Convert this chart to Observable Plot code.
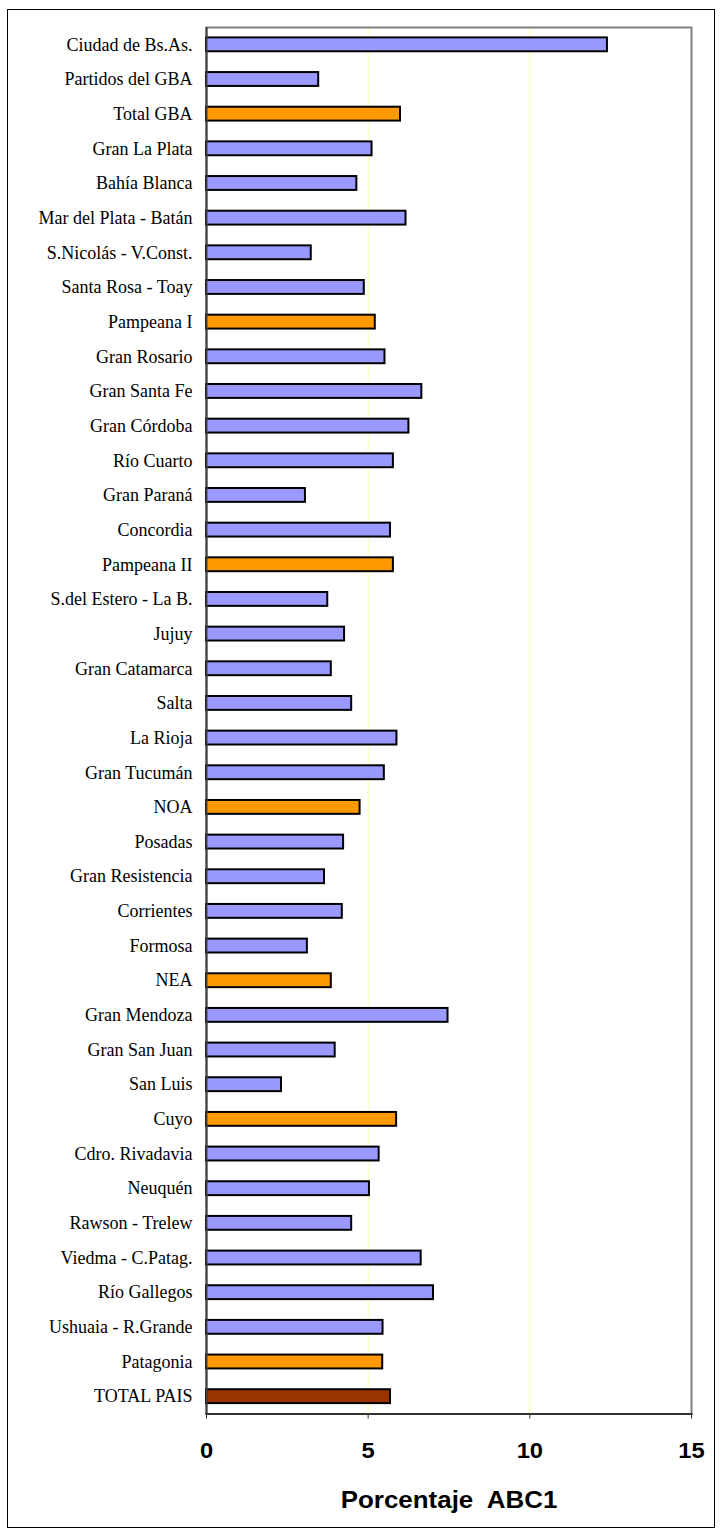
<!DOCTYPE html>
<html><head><meta charset="utf-8">
<script src="https://cdn.jsdelivr.net/npm/d3@7"></script>
<script src="https://cdn.jsdelivr.net/npm/@observablehq/plot@0.6"></script>
<style>
html,body{margin:0;padding:0;background:#fff;}
#wrap{position:relative;width:722px;height:1535px;overflow:hidden;}
#border{position:absolute;left:7px;top:9px;width:708px;height:1519px;border:1.5px solid #000;box-sizing:border-box;pointer-events:none;}
svg text{white-space:pre;}
</style></head><body><div id="wrap"><div id="chart"></div><div id="border"></div></div>
<script>
const categories = [
  "Ciudad de Bs.As.", "Partidos del GBA", "Total GBA", "Gran La Plata", "Bahía Blanca",
  "Mar del Plata - Batán", "S.Nicolás - V.Const.", "Santa Rosa - Toay", "Pampeana I", "Gran Rosario",
  "Gran Santa Fe", "Gran Córdoba", "Río Cuarto", "Gran Paraná", "Concordia",
  "Pampeana II", "S.del Estero - La B.", "Jujuy", "Gran Catamarca", "Salta",
  "La Rioja", "Gran Tucumán", "NOA", "Posadas", "Gran Resistencia",
  "Corrientes", "Formosa", "NEA", "Gran Mendoza", "Gran San Juan",
  "San Luis", "Cuyo", "Cdro. Rivadavia", "Neuquén", "Rawson - Trelew",
  "Viedma - C.Patag.", "Río Gallegos", "Ushuaia - R.Grande", "Patagonia", "TOTAL PAIS"
];
const values = [
  12.4, 3.47, 6.0, 5.12, 4.65,
  6.17, 3.24, 4.88, 5.22, 5.52,
  6.66, 6.26, 5.78, 3.06, 5.69,
  5.78, 3.75, 4.27, 3.86, 4.49,
  5.89, 5.5, 4.75, 4.24, 3.65,
  4.2, 3.12, 3.86, 7.47, 3.98,
  2.32, 5.88, 5.34, 5.04, 4.49,
  6.64, 7.02, 5.46, 5.45, 5.69
];
const subtotals = ["Total GBA", "Pampeana I", "Pampeana II", "NOA", "NEA", "Cuyo", "Patagonia"];
const grandTotal = "TOTAL PAIS";
const kinds = ["Aglomerado", "Región", "Total país"];
const xTicks = [0, 5, 10, 15];
const xLabel = "Porcentaje  ABC1";

const rows = categories.map((name, i) => ({
  name,
  value: values[i],
  kind: name === grandTotal ? kinds[2] : subtotals.includes(name) ? kinds[1] : kinds[0]
}));

const chart = Plot.plot({
  width: 722,
  height: 1535,
  marginLeft: 206,
  marginRight: 31,
  marginTop: 27,
  marginBottom: 121.5,
  style: {background: "transparent", overflow: "visible"},
  x: {domain: [0, 15], ticks: xTicks},
  y: {domain: categories, paddingInner: 0.6, paddingOuter: 0.3, round: false},
  color: {domain: kinds, range: ["#9999ff", "#ff9900", "#993300"]},
  marks: [
    Plot.ruleX([5, 10], {stroke: "#ffffc0", strokeWidth: 1.5}),
    Plot.frame({stroke: "#808080", strokeWidth: 2}),
    Plot.barX(rows, {y: "name", x: "value", fill: "kind", stroke: "#000", strokeWidth: 2}),
    Plot.ruleX([0], {stroke: "#404040", strokeWidth: 2}),
    Plot.frame({anchor: "bottom", stroke: "#333", strokeWidth: 2}),
    Plot.axisY({tickSize: 0, tickPadding: 14, fontSize: 18, fontFamily: "Liberation Serif", label: null, fill: "#000"}),
    Plot.axisX({ticks: xTicks, tickSize: 5, tickPadding: 23, fontSize: 22, fontWeight: "bold",
      fontFamily: "Liberation Sans", label: null, stroke: "#333", fill: "#000"}),
    Plot.text([xLabel], {frameAnchor: "bottom", lineAnchor: "middle", dy: 86, fontSize: 24,
      fontWeight: "bold", fontFamily: "Liberation Sans", fill: "#000"})
  ]
});
document.getElementById("chart").appendChild(chart);
// the reference's bold sans text is slightly widened; mimic it
chart.querySelectorAll('g[aria-label="x-axis tick label"] text, g[aria-label="text"] text').forEach(t => {
  const len = t.getComputedTextLength();
  if (len > 0) {
    t.setAttribute("textLength", (len * 1.08).toFixed(1));
    t.setAttribute("lengthAdjust", "spacingAndGlyphs");
  }
});
</script></body></html>
